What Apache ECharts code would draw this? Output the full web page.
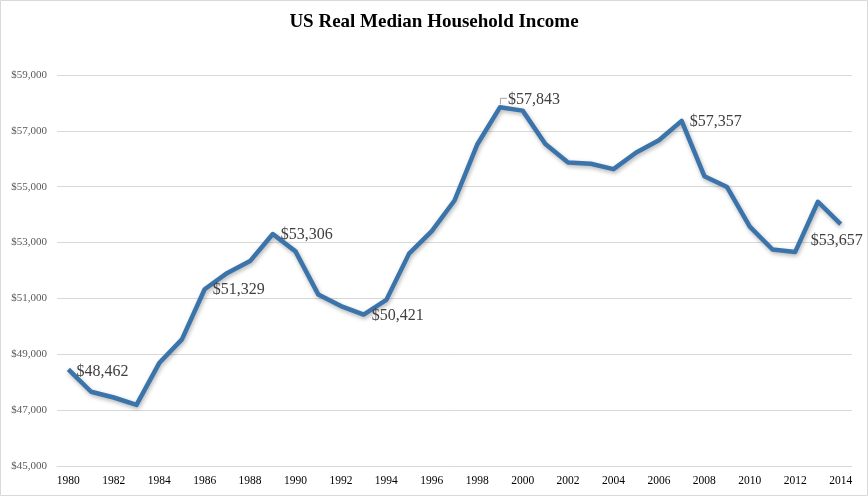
<!DOCTYPE html>
<html>
<head>
<meta charset="utf-8">
<script src="https://cdn.jsdelivr.net/npm/echarts@6/dist/echarts.min.js"></script>
<style>html,body{margin:0;padding:0;background:#fff}#c{width:868px;height:496px}</style>
</head>
<body>
<div id="c"></div>
<script>
const years = ['1980','1981','1982','1983','1984','1985','1986','1987','1988','1989','1990','1991','1992','1993','1994','1995','1996','1997','1998','1999','2000','2001','2002','2003','2004','2005','2006','2007','2008','2009','2010','2011','2012','2013','2014'];
const income = [48462,47659,47453,47187,48686,49532,51329,51914,52336,53306,52684,51145,50725,50421,50948,52604,53407,54506,56510,57843,57724,56531,55871,55823,55629,56224,56663,57357,55376,54988,53568,52751,52666,54462,53657];
const labeledYears = ['1980','1986','1989','1993','1999','2007','2014'];
const labelPlacement = {
  '1980': {position: 'right', offset: [0, 2]},
  '1986': {position: 'right', offset: [0, 1]},
  '1989': {position: 'right', offset: [0, 1]},
  '1993': {position: 'right', offset: [0, 1]},
  '1999': {position: 'right', offset: [0, -8]},
  '2007': {position: 'right', offset: [0, 1]},
  '2014': {position: 'bottom', offset: [-4, 1]}
};

const fmt = v => '$' + v.toLocaleString('en-US');
const data = income.map((v, i) => {
  const y = years[i];
  if (labeledYears.indexOf(y) >= 0) {
    return {value: v, label: Object.assign({show: true, formatter: p => fmt(p.value)}, labelPlacement[y])};
  }
  return v;
});

const chart = echarts.init(document.getElementById('c'));
chart.setOption({
  animation: false,
  backgroundColor: '#fff',
  title: {
    text: 'US Real Median Household Income',
    left: 'center', top: 8,
    textStyle: {fontFamily: 'Liberation Serif', fontSize: 19, fontWeight: 'bold', color: '#000'}
  },
  graphic: [{type: 'rect', shape: {x: 0.5, y: 0.5, width: 867, height: 495}, style: {fill: 'none', stroke: '#d9d9d9', lineWidth: 1}, silent: true}],
  grid: {left: 57, right: 16, top: 75, bottom: 30},
  xAxis: {
    type: 'category', data: years, boundaryGap: true,
    axisLine: {show: true, lineStyle: {color: '#d9d9d9'}},
    axisTick: {show: false},
    axisLabel: {interval: 1, fontFamily: 'Liberation Serif', fontSize: 11.5, color: '#000', margin: 9}
  },
  yAxis: {
    type: 'value', min: 45000, max: 59000, interval: 2000,
    axisLine: {show: false}, axisTick: {show: false},
    splitLine: {lineStyle: {color: '#d9d9d9'}},
    axisLabel: {formatter: v => fmt(v), fontFamily: 'Liberation Serif', fontSize: 11, color: '#595959', margin: 10}
  },
  series: [{
    type: 'line', data: data, symbol: 'circle', symbolSize: 0.1, showSymbol: true, smooth: false,
    lineStyle: {color: '#3a74aa', width: 4.5, shadowColor: 'rgba(0,0,0,0.3)', shadowBlur: 4, shadowOffsetY: 2, shadowOffsetX: 1, join: 'round'},
    itemStyle: {color: '#3a74aa'},
    label: {fontFamily: 'Liberation Serif', fontSize: 16, color: '#404040', distance: 8}
  }]
});

// leader bracket for the 1999 label, placed through the chart's own scales
const pk = chart.convertToPixel({seriesIndex: 0}, ['1999', income[years.indexOf('1999')]]);
chart.setOption({
  graphic: [
    {type: 'rect', shape: {x: 0.5, y: 0.5, width: 867, height: 495}, style: {fill: 'none', stroke: '#d9d9d9', lineWidth: 1}, silent: true},
    {type: 'polyline', shape: {points: [[pk[0] + 0.5, pk[1] - 3], [pk[0] + 0.5, pk[1] - 9], [pk[0] + 7, pk[1] - 9]]},
     style: {fill: 'none', stroke: '#a6a6a6', lineWidth: 1}, silent: true, z: 1}
  ]
});
</script>
</body>
</html>
